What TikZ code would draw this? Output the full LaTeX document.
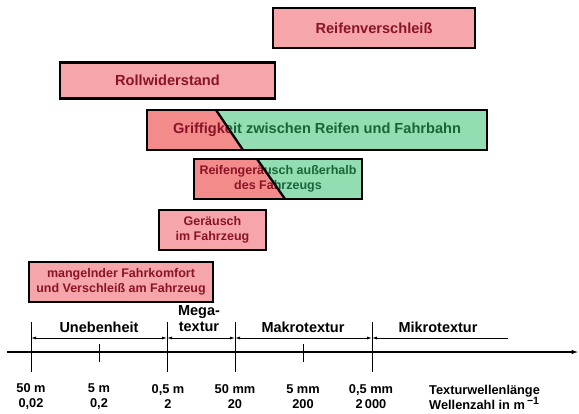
\documentclass[tikz,border=0pt]{standalone}
\usepackage{fontspec}
\setmainfont{Liberation Sans}
\usetikzlibrary{arrows.meta}
\definecolor{pinkfill}{HTML}{F6A6AA}
\definecolor{redfill}{HTML}{F38B8B}
\definecolor{greenfill}{HTML}{93DDB3}
\definecolor{redtext}{HTML}{8A1426}
\definecolor{greentext}{HTML}{17663A}
\tikzset{
  box/.style={draw=black, line width=2.3pt, fill=pinkfill, inner sep=0pt, text=redtext,
    font=\bfseries\fontsize{14.6}{17}\selectfont, align=center},
  smallbox/.style={box, font=\bfseries\fontsize{12.5}{15}\selectfont},
  bigtext/.style={inner sep=0pt, font=\bfseries\fontsize{14.6}{17}\selectfont, align=center},
  smalltext/.style={inner sep=0pt, font=\bfseries\fontsize{12.5}{15}\selectfont, align=center},
  boxline/.style={draw=black, line width=2.3pt},
  axisline/.style={line width=1.3pt, -{Latex[length=7pt,width=4.5pt]}},
  tickline/.style={line width=1pt},
  dimline/.style={line width=0.8pt},
  toplabel/.style={inner sep=0pt, font=\bfseries\fontsize{14.5}{16}\selectfont, align=center},
  botlabel/.style={inner sep=0pt, font=\bfseries\fontsize{12.8}{15}\selectfont, align=center},
}
\begin{document}
\begin{tikzpicture}[x=1pt,y=-1pt]
\useasboundingbox (0,0) rectangle (579,413);

% simple boxes
\node[box, minimum width=202pt, minimum height=40pt] (rv) at (374,28) {Reifenverschleiß};
\node[box, minimum width=215pt, minimum height=36pt] (rw) at (167.5,80.5) {Rollwiderstand};
\node[smallbox, minimum width=107pt, minimum height=40pt] (gf) at (212.5,230) {Geräusch\\im Fahrzeug};
\node[smallbox, minimum width=184pt, minimum height=40pt] (mf) at (121,282) {mangelnder Fahrkomfort\\und Verschleiß am Fahrzeug};

% Griffigkeit (split box)
\fill[redfill] (147,110) -- (216,110) -- (243,150) -- (147,150) -- cycle;
\fill[greenfill] (216,110) -- (487,110) -- (487,150) -- (243,150) -- cycle;
\begin{scope}
  \clip (147,110) -- (216,110) -- (243,150) -- (147,150) -- cycle;
  \node[bigtext, text=redtext] (grr) at (317,130) {Griffigkeit zwischen Reifen und Fahrbahn};
\end{scope}
\begin{scope}
  \clip (216,110) -- (487,110) -- (487,150) -- (243,150) -- cycle;
  \node[bigtext, text=greentext] (grg) at (317,130) {Griffigkeit zwischen Reifen und Fahrbahn};
\end{scope}
\draw[boxline] (216,110) -- (243,150);
\draw[boxline] (147,110) rectangle (487,150);

% Reifengeraeusch (split box)
\fill[redfill] (194,159) -- (257,159) -- (285,199) -- (194,199) -- cycle;
\fill[greenfill] (257,159) -- (362,159) -- (362,199) -- (285,199) -- cycle;
\begin{scope}
  \clip (194,159) -- (257,159) -- (285,199) -- (194,199) -- cycle;
  \node[smalltext, text=redtext] (rgr) at (278,179) {Reifengeräusch außerhalb\\des Fahrzeugs};
\end{scope}
\begin{scope}
  \clip (257,159) -- (362,159) -- (362,199) -- (285,199) -- cycle;
  \node[smalltext, text=greentext] (rgg) at (278,179) {Reifengeräusch außerhalb\\des Fahrzeugs};
\end{scope}
\draw[boxline] (257,159) -- (285,199);
\draw[boxline] (194,159) rectangle (362,199);

% axis
\coordinate (a0) at (7,352);
\coordinate (a1) at (578.5,352);
\draw[axisline] (a0) -- (a1);
\foreach \n/\x in {1/31,2/167,3/235,4/372} {
  \coordinate (lt\n) at (\x,322);
  \coordinate (lb\n) at (\x,372);
  \coordinate (d\n) at (\x,338);
  \draw[tickline] (lt\n) -- (lb\n);
}
\foreach \n/\x in {1/99,2/303} {
  \coordinate (mt\n) at (\x,344);
  \coordinate (mb\n) at (\x,362);
  \draw[tickline] (mt\n) -- (mb\n);
}
\coordinate (d5) at (508,338);
\draw[dimline, {Latex[length=5pt,width=3pt]}-{Latex[length=5pt,width=3pt]}] (d1) -- (d2);
\draw[dimline, {Latex[length=5pt,width=3pt]}-{Latex[length=5pt,width=3pt]}] (d2) -- (d3);
\draw[dimline, {Latex[length=5pt,width=3pt]}-{Latex[length=5pt,width=3pt]}] (d3) -- (d4);
\draw[dimline, {Latex[length=5pt,width=3pt]}-] (d4) -- (d5);

% labels above axis
\node[toplabel] (l1) at (99,327) {Unebenheit};
\node[toplabel] (l2) at (199,319) {Mega-\\textur};
\node[toplabel] (l3) at (303,327) {Makrotextur};
\node[toplabel] (l4) at (438,327) {Mikrotextur};

% labels below axis
\node[botlabel] (n1) at (31,397) {50 m\\0,02};
\node[botlabel] (n2) at (99,397) {5 m\\0,2};
\node[botlabel] (n3) at (168,397) {0,5 m\\2};
\node[botlabel] (n4) at (235,397) {50 mm\\20};
\node[botlabel] (n5) at (303,397) {5 mm\\200};
\node[botlabel] (n6) at (371,397) {0,5 mm\\2\,000};
\node[botlabel, anchor=west, align=left] (tw) at (429,397) {Texturwellenlänge\\Wellenzahl in m\,\raisebox{4.5pt}{\fontsize{10.5}{10.5}\selectfont −1}};
\end{tikzpicture}
\end{document}
